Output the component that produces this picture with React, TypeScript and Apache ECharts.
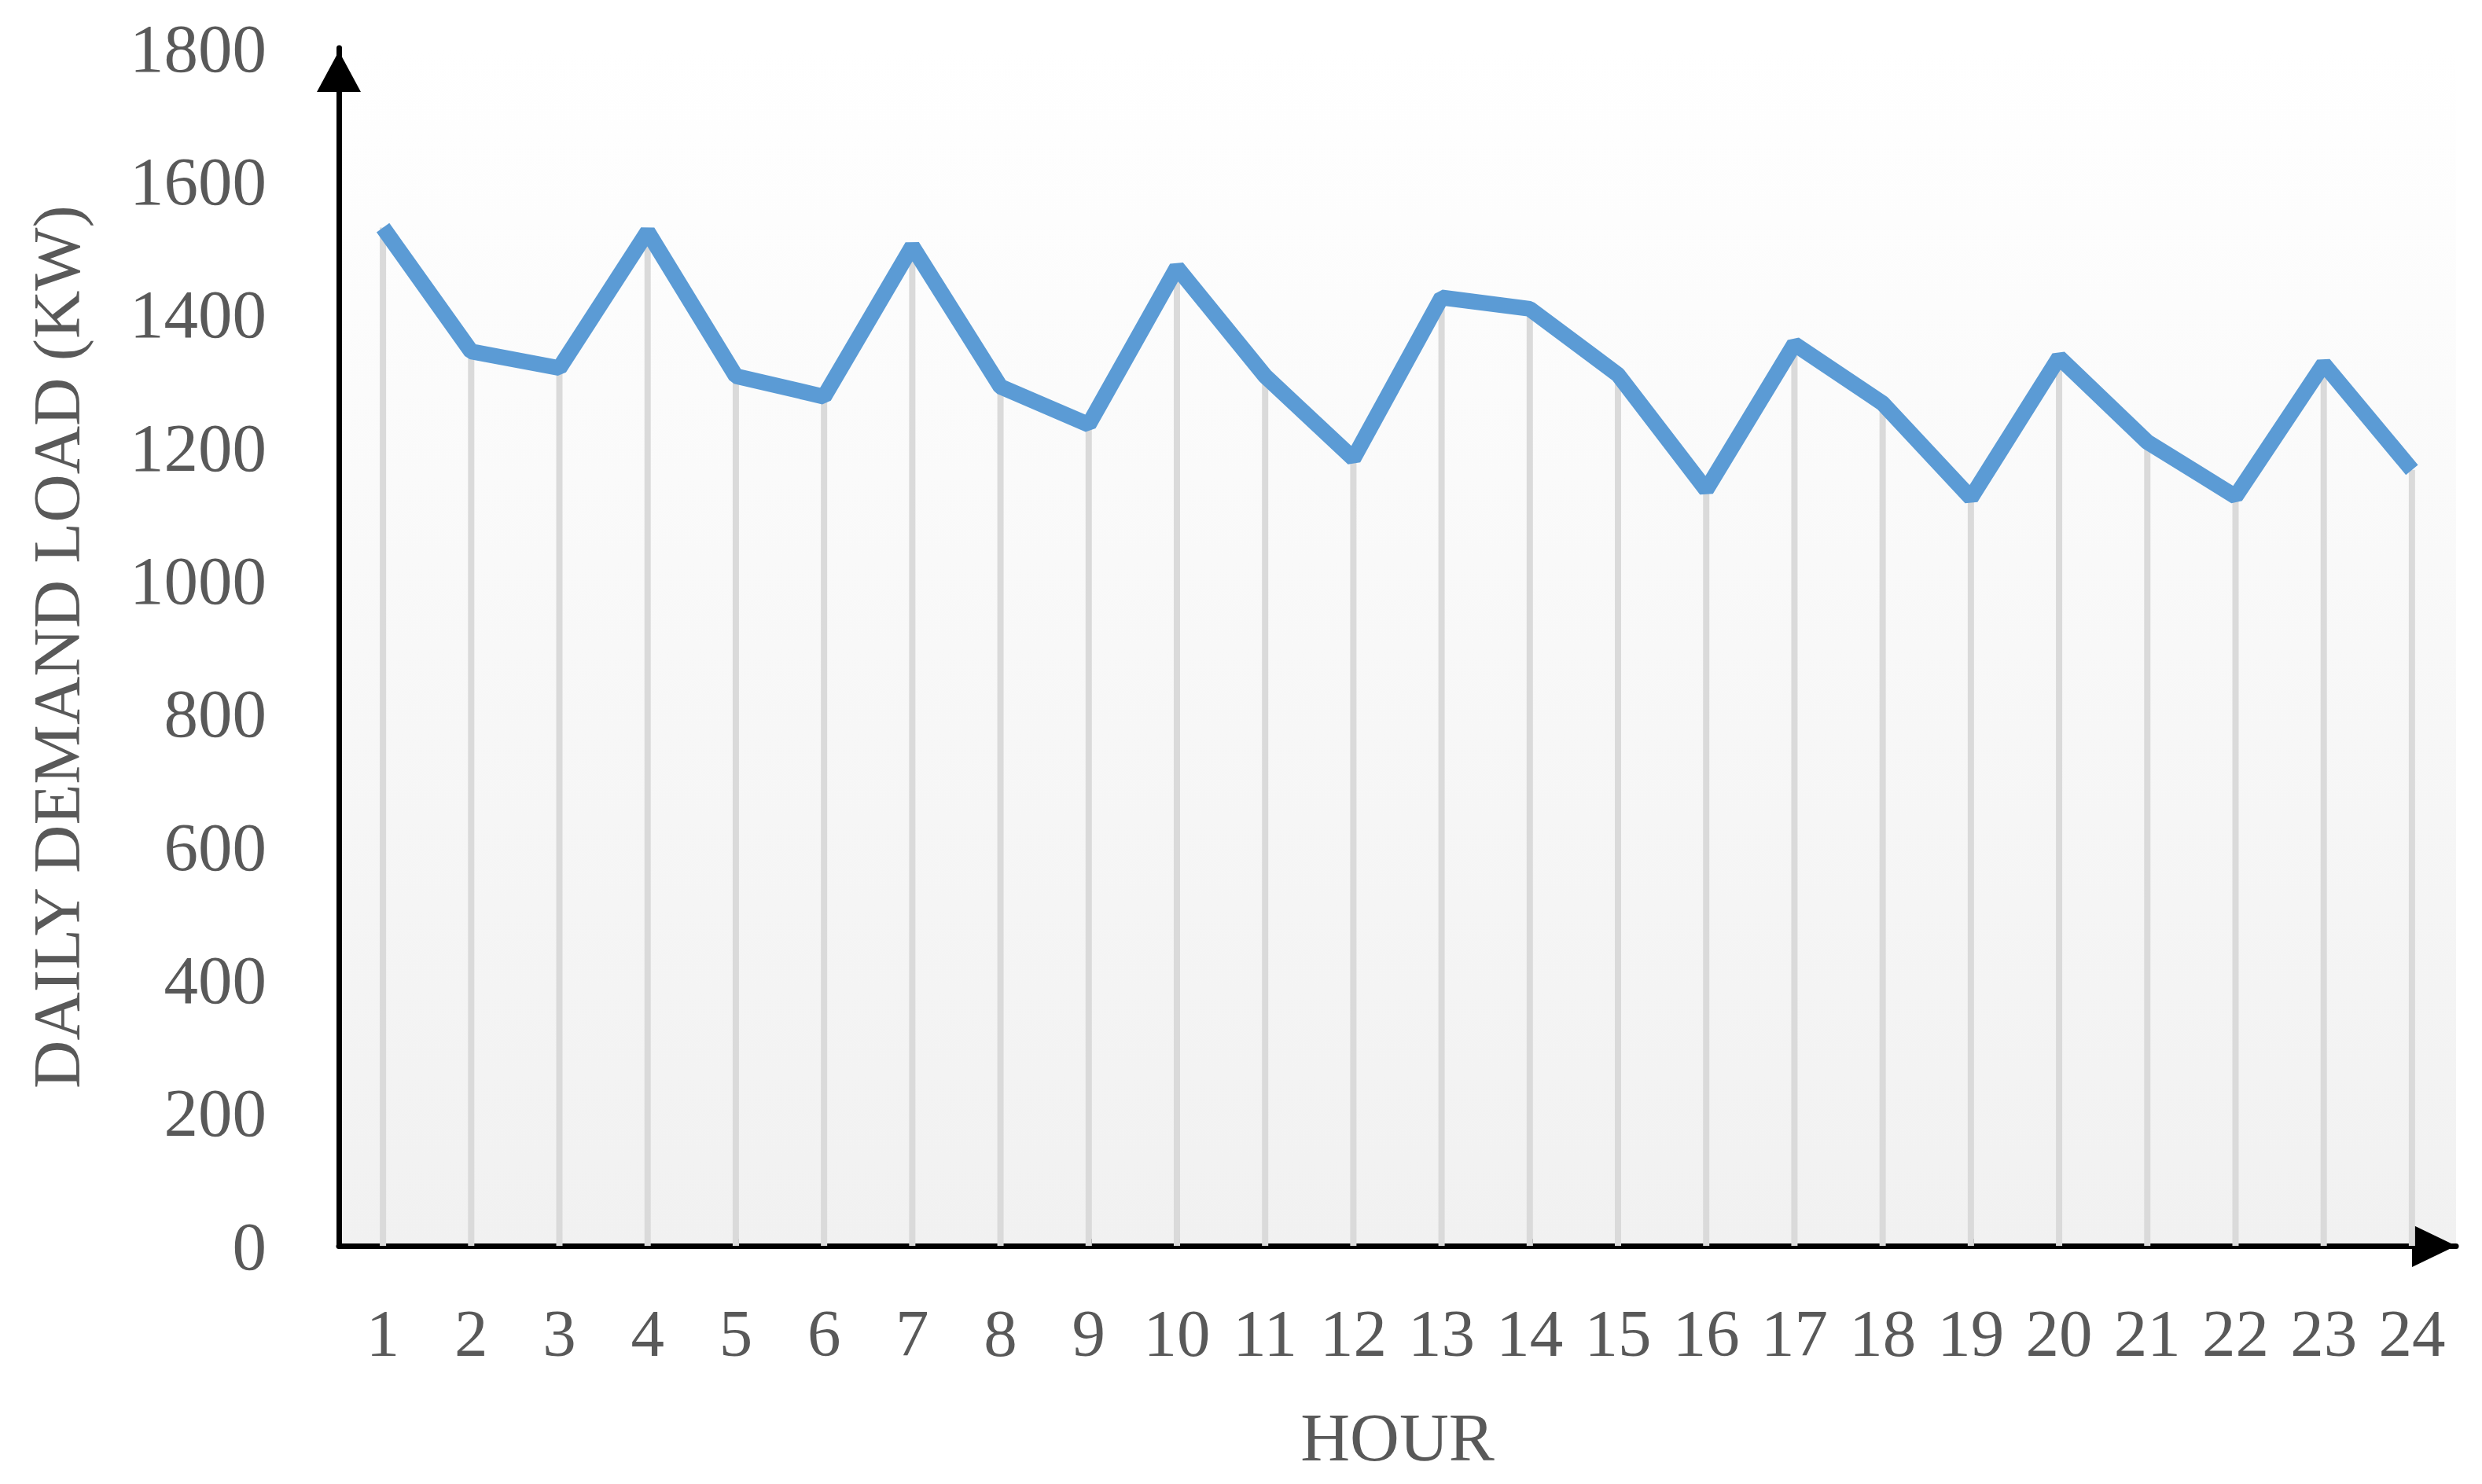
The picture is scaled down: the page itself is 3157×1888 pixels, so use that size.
import React, { useEffect, useRef } from "react";
import * as echarts from "echarts";

const hours = ["1","2","3","4","5","6","7","8","9","10","11","12","13","14","15","16","17","18","19","20","21","22","23","24"];
const demandLoad = [1530, 1344, 1319, 1524, 1307, 1276, 1502, 1291, 1234, 1470, 1307, 1183, 1425, 1408, 1309, 1136, 1355, 1266, 1124, 1335, 1208, 1126, 1325, 1166];
const yTicks = [0, 200, 400, 600, 800, 1000, 1200, 1400, 1600, 1800];

const FONT = "'Liberation Serif', 'DejaVu Serif', serif";
const LABEL_COLOR = "#595959";

export default function App() {
  const ref = useRef<HTMLDivElement>(null);
  useEffect(() => {
    if (!ref.current) return;
    const chart = echarts.init(ref.current, null, { renderer: "svg" });
    const option: any = {
      animation: false,
      backgroundColor: "#ffffff",
      grid: {
        left: 431,
        right: 33,
        top: 61,
        bottom: 303,
        show: true,
        borderWidth: 0,
        backgroundColor: {
          type: "linear", x: 0, y: 0, x2: 0, y2: 1,
          colorStops: [
            { offset: 0, color: "#ffffff" },
            { offset: 1, color: "#f1f1f1" },
          ],
        },
      },
      xAxis: {
        type: "category",
        data: hours,
        boundaryGap: true,
        name: "HOUR",
        nameLocation: "middle",
        nameGap: 200,
        nameTextStyle: { fontFamily: FONT, fontSize: 87, color: LABEL_COLOR },
        axisLine: {
          show: true,
          symbol: ["none", "triangle"],
          symbolSize: [54, 56],
          symbolOffset: [0, -28],
          lineStyle: { color: "#000000", width: 7 },
        },
        axisTick: { show: true, inside: true, alignWithLabel: true, length: 9, lineStyle: { color: "#404040", width: 7 } },
        axisLabel: { fontFamily: FONT, fontSize: 85, color: LABEL_COLOR, margin: 68, interval: 0 },
        splitLine: { show: false },
      },
      yAxis: {
        type: "value",
        min: 0,
        max: 1800,
        interval: 200,
        name: "DAILY DEMAND LOAD (KW)",
        nameLocation: "middle",
        nameGap: 317,
        nameTextStyle: { fontFamily: FONT, fontSize: 85, color: LABEL_COLOR },
        axisLine: {
          show: true,
          symbol: ["none", "triangle"],
          symbolSize: [56, 52],
          symbolOffset: [0, -30],
          lineStyle: { color: "#000000", width: 7 },
        },
        axisTick: { show: false },
        axisLabel: {
          fontFamily: FONT, fontSize: 87, color: LABEL_COLOR, margin: 92,
          formatter: (v: number) => (yTicks.indexOf(v) >= 0 ? String(v) : ""),
        },
        splitLine: { show: false },
      },
      series: [
        {
          type: "bar",
          data: demandLoad,
          barWidth: 8,
          itemStyle: { color: "#dadada" },
          z: 1,
          silent: true,
        },
        {
          type: "line",
          data: demandLoad,
          showSymbol: false,
          symbol: "none",
          lineStyle: { color: "#5b9bd5", width: 20, join: "bevel", cap: "butt" },
          z: 3,
        },
      ],
    };
    chart.setOption(option);
    return () => chart.dispose();
  }, []);
  return (
    <div
      ref={ref}
      style={{ position: "fixed", left: 0, top: 0, width: 3157, height: 1888, background: "#ffffff" }}
    />
  );
}
